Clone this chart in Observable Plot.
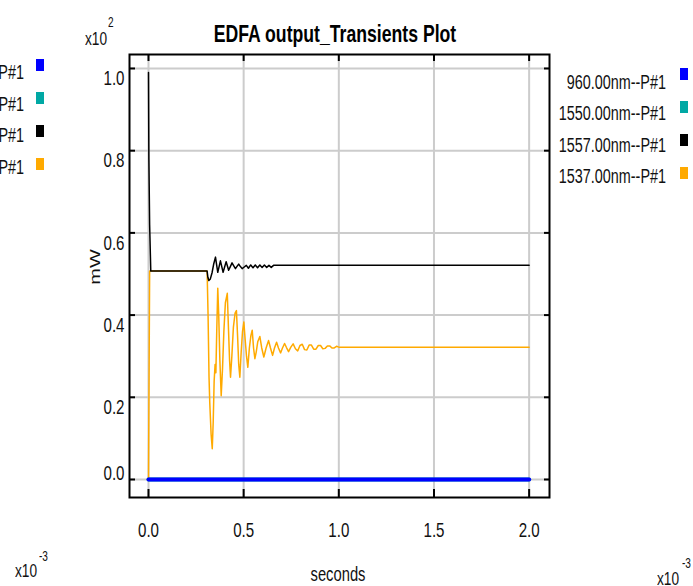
<!DOCTYPE html>
<html><head><meta charset="utf-8">
<script src="https://cdn.jsdelivr.net/npm/d3@7"></script>
<script src="https://cdn.jsdelivr.net/npm/@observablehq/plot@0.6"></script>
<style>
html,body{margin:0;padding:0;background:#fff;}
#chart{position:relative;width:693px;height:586px;overflow:hidden;font-family:"Liberation Sans",Arial,sans-serif;background:#fff;}
#chart svg{position:absolute;left:0;top:0;}
.lbl{position:absolute;white-space:nowrap;line-height:0.8;}
.sq{position:absolute;}
</style></head><body><div id="chart"></div>
<script>
// ---- data (time in 1e-3 s, power in 1e2 mW) ----
const titleText = "EDFA output_Transients Plot";
const xLabel = "seconds";
const yLabel = "mW";
const xExponent = ["x10", "-3"];
const yExponent = ["x10", "2"];
const xTicks = [0, 0.5, 1.0, 1.5, 2.0];
const xTickLabels = ["0.0", "0.5", "1.0", "1.5", "2.0"];
const yTicks = [0, 0.2, 0.4, 0.6, 0.8, 1.0];
const yTickLabels = ["0.0", "0.2", "0.4", "0.6", "0.8", "1.0"];
const seriesNames = ["960.00nm--P#1", "1550.00nm--P#1", "1557.00nm--P#1", "1537.00nm--P#1"];
const seriesColors = ["#0000ff", "#00a8a4", "#000000", "#ffaa00"];

const time960 = [0, 2.0];
const power960 = [0, 0];
const time1550 = [0, 2.0];
const power1550 = [0, 0];
const time1557 = [0, 0.002, 0.006, 0.012, 0.308, 0.312, 0.317, 0.325, 0.334, 0.343,
  0.352, 0.358, 0.364, 0.371, 0.378, 0.385, 0.392, 0.400, 0.408, 0.415,
  0.421, 0.430, 0.439, 0.448, 0.457, 0.466, 0.474, 0.483, 0.492, 0.503,
  0.514, 0.525, 0.537, 0.549, 0.561, 0.573, 0.585, 0.597, 0.609, 0.621,
  0.633, 0.645, 0.657, 2.0];
const power1557 = [0.99, 0.78, 0.62, 0.507, 0.507, 0.492, 0.484, 0.488, 0.503, 0.525,
  0.541, 0.522, 0.504, 0.518, 0.532, 0.518, 0.504, 0.517, 0.530, 0.519,
  0.509, 0.518, 0.527, 0.520, 0.513, 0.519, 0.524, 0.518, 0.513, 0.517,
  0.521, 0.514, 0.522, 0.515, 0.522, 0.515, 0.522, 0.516, 0.522, 0.516,
  0.521, 0.516, 0.521, 0.521];
const time1537 = [0, 0.006, 0.308, 0.313, 0.318, 0.322, 0.329, 0.335, 0.340, 0.345,
  0.350, 0.354, 0.359, 0.364, 0.369, 0.375, 0.382, 0.389, 0.396, 0.404,
  0.414, 0.420, 0.426, 0.431, 0.438, 0.446, 0.455, 0.462, 0.468, 0.474,
  0.480, 0.487, 0.494, 0.501, 0.508, 0.515, 0.522, 0.530, 0.538, 0.545,
  0.552, 0.559, 0.566, 0.574, 0.585, 0.595, 0.606, 0.618, 0.631, 0.641,
  0.652, 0.662, 0.673, 0.683, 0.694, 0.704, 0.715, 0.725, 0.736, 0.748,
  0.760, 0.772, 0.784, 0.796, 0.808, 0.820, 0.832, 0.844, 0.856, 0.868,
  0.880, 0.892, 0.904, 0.916, 0.928, 0.940, 0.952, 0.964, 0.976, 0.988,
  1.000, 2.000];
const power1537 = [0, 0.507, 0.507, 0.40, 0.25, 0.186, 0.11, 0.075, 0.14, 0.24,
  0.28, 0.26, 0.37, 0.465, 0.40, 0.29, 0.204, 0.27, 0.36, 0.43,
  0.453, 0.37, 0.29, 0.249, 0.30, 0.37, 0.405, 0.411, 0.35, 0.28,
  0.249, 0.31, 0.36, 0.383, 0.34, 0.30, 0.273, 0.32, 0.35, 0.363,
  0.32, 0.294, 0.31, 0.335, 0.348, 0.32, 0.298, 0.32, 0.338, 0.32,
  0.302, 0.32, 0.334, 0.32, 0.308, 0.32, 0.331, 0.321, 0.311, 0.322,
  0.330, 0.318, 0.313, 0.326, 0.329, 0.316, 0.315, 0.327, 0.327, 0.317,
  0.317, 0.326, 0.326, 0.318, 0.319, 0.325, 0.325, 0.320, 0.320, 0.324,
  0.322, 0.322];

// ---- build tables ----
const toRows = (ts, ps) => ts.map((t, i) => ({t, p: ps[i]}));
const rows960 = toRows(time960, power960);
const rows1550 = toRows(time1550, power1550);
const rows1557 = toRows(time1557, power1557);
const rows1537 = toRows(time1537, power1537);

const SX = 0.72; // horizontal text compression seen in the reference
const LH = 0.8;  // css line-height (em)
const FONT = "Liberation Sans, Arial, sans-serif";
const chart = document.getElementById("chart");

const fmtX = d => xTickLabels[xTicks.indexOf(d)];
const fmtY = d => yTickLabels[yTicks.indexOf(d)];

const plot = Plot.plot({
  width: 693, height: 586,
  marginTop: 54, marginBottom: 89, marginLeft: 129, marginRight: 144,
  style: {fontFamily: FONT, background: "transparent", color: "#111"},
  x: {domain: [-0.0998, 2.107]},
  y: {domain: [-0.0438, 1.034]},
  marks: [
    Plot.gridX(xTicks, {stroke: "#cccccc", strokeWidth: 2, strokeOpacity: 1}),
    Plot.gridY(yTicks, {stroke: "#cccccc", strokeWidth: 2, strokeOpacity: 1}),
    Plot.line(rows1537, {x: "t", y: "p", stroke: seriesColors[3], strokeWidth: 1.5, clip: true}),
    Plot.line(rows1557, {x: "t", y: "p", stroke: seriesColors[2], strokeWidth: 1.5, clip: true}),
    Plot.line(rows1550, {x: "t", y: "p", stroke: seriesColors[1], strokeWidth: 4, clip: true}),
    Plot.line(rows960, {x: "t", y: "p", stroke: seriesColors[0], strokeWidth: 4, clip: true}),
    Plot.frame({stroke: "#000", strokeWidth: 2}),
    // inward tick marks on all four sides
    Plot.axisX(xTicks, {anchor: "bottom", tickSize: -8, strokeWidth: 2, stroke: "#000", fill: "none", label: null}),
    Plot.axisX(xTicks, {anchor: "top", tickSize: -6, strokeWidth: 2, stroke: "#000", fill: "none", label: null}),
    Plot.axisY(yTicks, {anchor: "left", tickSize: -6, strokeWidth: 2, stroke: "#000", fill: "none", label: null}),
    Plot.axisY(yTicks, {anchor: "right", tickSize: -6, strokeWidth: 2, stroke: "#000", fill: "none", label: null}),
    // tick labels
    Plot.axisX(xTicks, {anchor: "bottom", tickSize: 0, tickPadding: 25, fontSize: 21, tickFormat: fmtX, label: null, fill: "#111"}),
    Plot.axisY(yTicks.slice(1), {anchor: "left", tickSize: 0, tickPadding: 5, fontSize: 21, dy: 10, tickFormat: fmtY, label: null, fill: "#111"}),
    Plot.axisY(yTicks.slice(0, 1), {anchor: "left", tickSize: 0, tickPadding: 5, fontSize: 21, dy: -6, tickFormat: fmtY, label: null, fill: "#111"})
  ]
});
chart.appendChild(plot);

// compress svg text horizontally
plot.querySelectorAll("text").forEach(t => {
  const len = t.getComputedTextLength();
  if (len > 0) {
    t.setAttribute("textLength", (len * SX).toFixed(2));
    t.setAttribute("lengthAdjust", "spacingAndGlyphs");
  }
});

// ---- HTML text overlays ----
const baseOffset = (LH - 1.117) / 2 + 0.905; // baseline position inside the line box (em)
function addLabel(text, {x, baseline, size, weight = "normal", anchor = "start", color = "#111", sx = SX}) {
  const el = document.createElement("div");
  el.className = "lbl";
  el.textContent = text;
  el.style.fontSize = size + "px";
  el.style.fontWeight = weight;
  el.style.color = color;
  el.style.left = x + "px";
  el.style.top = (baseline - baseOffset * size) + "px";
  const tx = anchor === "end" ? -100 : anchor === "middle" ? -50 : 0;
  el.style.transformOrigin = anchor === "end" ? "100% 0" : anchor === "middle" ? "50% 0" : "0 0";
  el.style.transform = `translateX(${tx}%) scaleX(${sx})`;
  chart.appendChild(el);
  return el;
}
function addSquare(x, y, w, h, color) {
  const el = document.createElement("div");
  el.className = "sq";
  Object.assign(el.style, {left: x + "px", top: y + "px", width: w + "px", height: h + "px", background: color});
  chart.appendChild(el);
}

// title
addLabel(titleText, {x: 335, baseline: 42.5, size: 24.5, weight: "bold", anchor: "middle", color: "#000"});

// y exponent
addLabel(yExponent[0], {x: 85, baseline: 45, size: 19});
addLabel(yExponent[1], {x: 108, baseline: 27, size: 14});

// x exponents (left copy and right copy)
addLabel(xExponent[0], {x: 15, baseline: 577, size: 19});
addLabel(xExponent[1], {x: 39, baseline: 561, size: 14});
addLabel(xExponent[0], {x: 657, baseline: 585, size: 19});
addLabel(xExponent[1], {x: 682, baseline: 568, size: 14});

// x axis label
addLabel(xLabel, {x: 337.5, baseline: 581.5, size: 20.5, anchor: "middle"});

// y axis label (rotated)
{
  const size = 20;
  const el = document.createElement("div");
  el.className = "lbl";
  el.textContent = yLabel;
  el.style.fontSize = size + "px";
  el.style.color = "#111";
  el.style.left = "95px";
  el.style.top = "267px";
  el.style.transformOrigin = "0 0";
  el.style.transform = `scaleX(${SX}) rotate(-90deg) translate(-50%, -50%)`;
  chart.appendChild(el);
}

// legends: right and clipped left copy
seriesNames.forEach((name, i) => {
  addLabel(name, {x: 666, baseline: 88.5 + 31.5 * i, size: 20, anchor: "end"});
  addSquare(680, 67.5 + 33 * i, 8, 12, seriesColors[i]);
  addLabel(name, {x: 24, baseline: 79 + 31.5 * i, size: 20, anchor: "end"});
  addSquare(36, 59 + 33 * i, 7.5, 12, seriesColors[i]);
});
</script>
</body></html>
